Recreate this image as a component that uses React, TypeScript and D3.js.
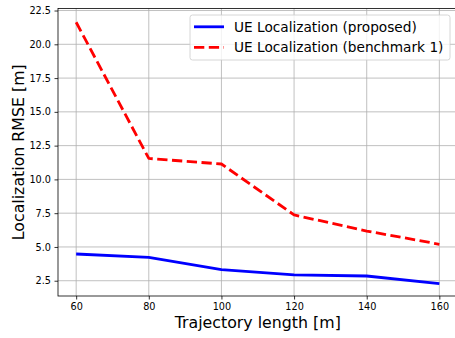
import * as d3 from 'd3';
import {useEffect, useRef} from "react";

// trajectory lengths [m]
const lengths = [60, 80, 100, 120, 140, 160];
// RMSE values
const proposed = [4.48, 4.23, 3.32, 2.94, 2.85, 2.28];
const benchmark1 = [21.63, 11.55, 11.14, 7.37, 6.18, 5.2];
const xTicks = [60, 80, 100, 120, 140, 160];
const yTicks = [2.5, 5.0, 7.5, 10.0, 12.5, 15.0, 17.5, 20.0, 22.5];
const seriesNames = ["UE Localization (proposed)", "UE Localization (benchmark 1)"];

export default function App() {
    const svgRef = useRef<SVGSVGElement>(null);

    const width = 455;
    const height = 338;
    const margin = {top: 8.5, right: -2.5, left: 58, bottom: 42};

    useEffect(() => {
        const svg = d3.select(svgRef.current)
            .attr('width', width)
            .attr('height', height);

        svg.selectAll("*").remove();

        const innerW = width - margin.left - margin.right;
        const innerH = height - margin.top - margin.bottom;
        const font = "DejaVu Sans, sans-serif";

        const g = svg.append("g")
            .attr("transform", `translate(${margin.left},${margin.top})`);

        const xScale = d3.scaleLinear().domain([55, 165]).range([0, innerW]);
        const yScale = d3.scaleLinear().domain([1.37, 22.65]).range([innerH, 0]);

        // grid
        g.append("g").selectAll("line").data(xTicks).enter().append("line")
            .attr("x1", d => xScale(d)).attr("x2", d => xScale(d))
            .attr("y1", 0).attr("y2", innerH)
            .attr("stroke", "#b0b0b0").attr("stroke-width", 0.8);
        g.append("g").selectAll("line").data(yTicks).enter().append("line")
            .attr("x1", 0).attr("x2", innerW)
            .attr("y1", d => yScale(d)).attr("y2", d => yScale(d))
            .attr("stroke", "#b0b0b0").attr("stroke-width", 0.8);

        // axes
        const xAxis = g.append("g")
            .attr("transform", `translate(0,${innerH})`)
            .call(d3.axisBottom(xScale).tickValues(xTicks).tickSize(3.5).tickPadding(3.5).tickFormat(d3.format("d")));
        const yAxis = g.append("g")
            .call(d3.axisLeft(yScale).tickValues(yTicks).tickSize(3.5).tickPadding(3.5).tickFormat(d3.format(".1f")));
        [xAxis, yAxis].forEach(a => {
            a.select(".domain").remove();
            a.selectAll("line").attr("stroke", "#000").attr("stroke-width", 0.8);
            a.selectAll("text").attr("font-family", font).attr("font-size", 9.7).attr("fill", "#000");
        });

        // spines
        g.append("rect")
            .attr("x", 0).attr("y", 0).attr("width", innerW).attr("height", innerH)
            .attr("fill", "none").attr("stroke", "#000").attr("stroke-width", 0.8);

        const line = d3.line<number>()
            .x((d, i) => xScale(lengths[i]))
            .y(d => yScale(d));

        g.append("path").datum(proposed)
            .attr("d", line).attr("fill", "none")
            .attr("stroke", "#0000ff").attr("stroke-width", 2.8)
            .attr("stroke-linejoin", "round").attr("stroke-linecap", "butt");
        g.append("path").datum(benchmark1)
            .attr("d", line).attr("fill", "none")
            .attr("stroke", "#ff0000").attr("stroke-width", 2.8)
            .attr("stroke-dasharray", "10.3,4.5")
            .attr("stroke-linejoin", "round");

        // labels
        svg.append("text")
            .attr("x", margin.left + (width - margin.left + 2.5) / 2)
            .attr("y", 327.5)
            .attr("text-anchor", "middle")
            .attr("font-family", font).attr("font-size", 15.8)
            .text("Trajectory length [m]");
        svg.append("text")
            .attr("transform", `translate(23.5,${margin.top + innerH / 2}) rotate(-90)`)
            .attr("text-anchor", "middle")
            .attr("font-family", font).attr("font-size", 15.8)
            .text("Localization RMSE [m]");

        // legend
        const legend = svg.append("g");
        legend.append("rect")
            .attr("x", 190).attr("y", 15).attr("width", 260).attr("height", 45)
            .attr("rx", 2.5)
            .attr("fill", "#fff").attr("fill-opacity", 0.8)
            .attr("stroke", "#cccccc").attr("stroke-width", 0.8);
        const styles = [{c: "#0000ff", dash: null}, {c: "#ff0000", dash: "10.3,4.5"}];
        seriesNames.forEach((name, i) => {
            const yy = 26.8 + i * 20.5;
            legend.append("line")
                .attr("x1", 194).attr("x2", 224).attr("y1", yy).attr("y2", yy)
                .attr("stroke", styles[i].c).attr("stroke-width", 2.8)
                .attr("stroke-dasharray", styles[i].dash);
            legend.append("text")
                .attr("x", 234).attr("y", yy + 4.8)
                .attr("font-family", font).attr("font-size", 13.7)
                .text(name);
        });

        return () => {};
    }, []);

    return (<div style={{position: "absolute", left: 0, top: 0, width: 455, height: 338, overflow: "hidden", background: "#fff"}}>
        <svg ref={svgRef} viewBox="0 0 455 338" style={{display: "block"}}></svg>
    </div>);
}
